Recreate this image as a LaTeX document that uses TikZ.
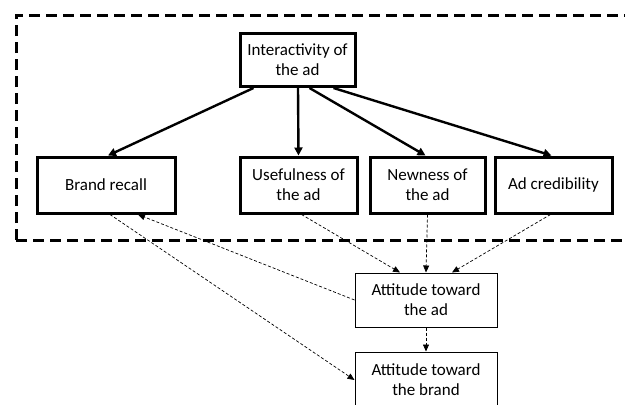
\documentclass[tikz,border=0pt]{standalone}
\usepackage{fontspec}
\setmainfont{Carlito}
\usetikzlibrary{arrows.meta,calc}
\begin{document}
\begin{tikzpicture}[x=1pt,y=-1pt,
  thickbox/.style={draw,line width=3pt,align=center,inner sep=0pt,font=\fontsize{17}{20}\selectfont},
  thinbox/.style={draw,line width=1pt,align=center,inner sep=0pt,font=\fontsize{17}{20}\selectfont},
  solidarr/.style={line width=2.4pt,-{Triangle[length=8pt,width=8pt]}},
  dasharr/.style={line width=0.7pt,dash pattern=on 3pt off 2pt,-{Triangle[length=7pt,width=6pt]}},
  region/.style={line width=3pt,dash pattern=on 11pt off 6pt}]
\useasboundingbox (0,0) rectangle (625,405);
\clip (0,0) rectangle (625,405);
\draw[region] (16,240) -- (16,15) -- (640,15);
\draw[region] (16,240) -- (640,240);
\node[thickbox,minimum width=115pt,minimum height=53pt] (inter) at (297.5,60) {Interactivity of\\the ad};
\node[thickbox,minimum width=138pt,minimum height=56pt] (recall) at (106,185) {Brand recall};
\node[thickbox,minimum width=117pt,minimum height=56pt] (useful) at (298.5,185) {Usefulness of\\the ad};
\node[thickbox,minimum width=115pt,minimum height=56pt] (new) at (427.5,185) {Newness of\\the ad};
\node[thickbox,minimum width=117pt,minimum height=56pt] (cred) at (553.5,185) {Ad credibility};
\node[thinbox,minimum width=142pt,minimum height=54pt] (attad) at (426,300) {Attitude toward\\the ad};
\node[thinbox,minimum width=142pt,minimum height=56pt] (attbrand) at (426,380) {Attitude toward\\the brand};
\draw[solidarr] ($(inter.south west)+(15,0)$) -- ($(recall.north)+(2,0)$);
\draw[solidarr] ($(inter.south)+(0.5,0)$) -- (useful.north);
\draw[solidarr] ($(inter.south)+(12,0)$) -- ($(new.north)+(-2,0)$);
\draw[solidarr] ($(inter.south)+(36,0)$) -- ($(cred.north)+(-2,0)$);
\draw[dasharr] ($(useful.south)+(3,0)$) -- ($(attad.north)+(-26,0)$);
\draw[dasharr] (new.south) -- (attad.north);
\draw[dasharr] ($(cred.south)+(-3,0)$) -- ($(attad.north)+(26,0)$);
\draw[dasharr] (attad.west) -- ($(recall.south)+(32,0)$);
\draw[dasharr] ($(recall.south)+(4,0)$) -- (attbrand.west);
\draw[dasharr] (attad.south) -- (attbrand.north);
\end{tikzpicture}
\end{document}
